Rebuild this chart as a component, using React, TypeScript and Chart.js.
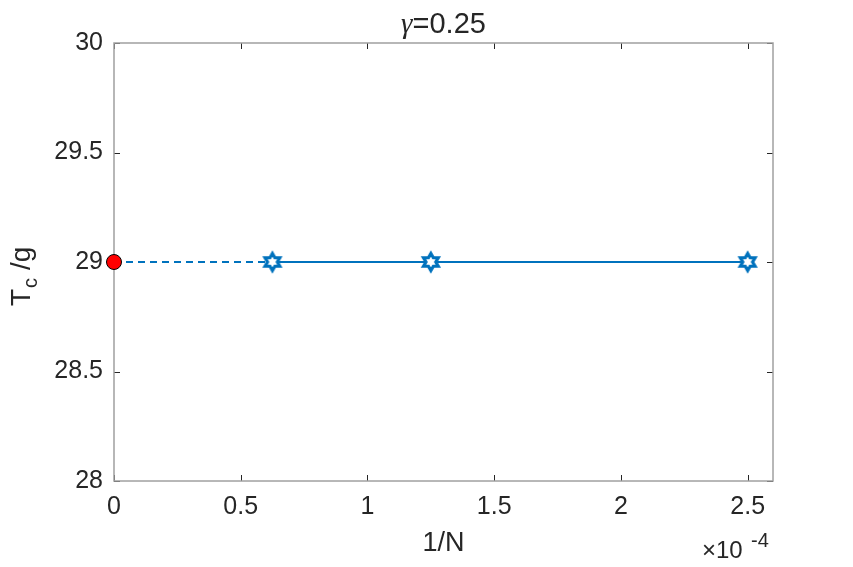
import React, { useEffect, useRef } from "react";
import { Chart, registerables } from "chart.js";

Chart.register(...registerables);

const extrapX = [0, 0.625e-4];
const extrapY = [29, 29];
const dataX = [0.625e-4, 1.25e-4, 2.5e-4];
const dataY = [29, 29, 29];
const limitX = [0];
const limitY = [29];
const xTicks = [0, 0.5e-4, 1e-4, 1.5e-4, 2e-4, 2.5e-4];
const yTicks = [28, 28.5, 29, 29.5, 30];
const titleText = "=0.25";
const xLabel = "1/N";

const BLUE = "#0072BD";
const TXT = "#262626";
const FONT = "'Liberation Sans', Arial, sans-serif";
const SERIF = "'Liberation Serif', 'DejaVu Serif', serif";

function makeHexagram(): HTMLCanvasElement {
  const c = document.createElement("canvas");
  const s = 24;
  c.width = s;
  c.height = s;
  const ctx = c.getContext("2d")!;
  const cx = s / 2, cy = s / 2, R = 8.5, r = R / Math.sqrt(3);
  ctx.beginPath();
  for (let i = 0; i < 12; i++) {
    const ang = -Math.PI / 2 + (i * Math.PI) / 6;
    const rad = i % 2 === 0 ? R : r;
    const px = cx + rad * Math.cos(ang);
    const py = cy + rad * Math.sin(ang);
    if (i === 0) ctx.moveTo(px, py);
    else ctx.lineTo(px, py);
  }
  ctx.closePath();
  ctx.fillStyle = "#ffffff";
  ctx.fill();
  ctx.lineWidth = 3.2;
  ctx.strokeStyle = BLUE;
  ctx.lineJoin = "miter";
  ctx.stroke();
  return c;
}

const frame = {
  id: "frame",
  beforeDatasetsDraw(chart: any) {
    const { ctx, chartArea } = chart;
    const { left, right, top, bottom } = chartArea;
    const xs = chart.scales.x;
    const ys = chart.scales.y;
    ctx.save();
    ctx.strokeStyle = "#262626";
    ctx.lineWidth = 1;
    const tl = 6;
    ctx.beginPath();
    for (const v of xTicks) {
      const px = Math.round(xs.getPixelForValue(v)) + 0.5;
      ctx.moveTo(px, bottom);
      ctx.lineTo(px, bottom - tl);
      ctx.moveTo(px, top);
      ctx.lineTo(px, top + tl);
    }
    for (const v of yTicks) {
      const py = Math.round(ys.getPixelForValue(v)) + 0.5;
      ctx.moveTo(left, py);
      ctx.lineTo(left + tl, py);
      ctx.moveTo(right, py);
      ctx.lineTo(right - tl, py);
    }
    ctx.stroke();
    ctx.strokeStyle = "#a0a0a0";
    ctx.lineWidth = 1.5;
    ctx.strokeRect(left, top, right - left, bottom - top);

    ctx.fillStyle = TXT;
    ctx.textBaseline = "alphabetic";
    // title: gamma + =0.25
    ctx.font = `29px ${FONT}`;
    const wRest = ctx.measureText(titleText).width;
    ctx.font = `italic 29px ${SERIF}`;
    const wG = ctx.measureText("γ").width;
    const tx = (left + right) / 2 - (wG + wRest) / 2;
    ctx.textAlign = "left";
    ctx.fillText("γ", tx, 33);
    ctx.font = `29px ${FONT}`;
    ctx.fillText(titleText, tx + wG, 33);

    ctx.textAlign = "center";
    ctx.font = `27px ${FONT}`;
    ctx.fillText(xLabel, (left + right) / 2, 551);

    // exponent
    ctx.textAlign = "left";
    ctx.font = `24px ${FONT}`;
    ctx.fillText("×10", 702, 558);
    ctx.font = `20px ${FONT}`;
    ctx.fillText("-4", 751, 547);

    // y label T_c/g
    ctx.translate(30, 306);
    ctx.rotate(-Math.PI / 2);
    ctx.font = `28px ${FONT}`;
    ctx.fillText("T", 0, 0);
    ctx.font = `20px ${FONT}`;
    ctx.fillText("c", 18, 7);
    ctx.font = `28px ${FONT}`;
    ctx.fillText("/g", 36, 0);
    ctx.restore();
  },
};

export default function App() {
  const ref = useRef<HTMLCanvasElement>(null);
  useEffect(() => {
    document.body.style.margin = "0";
    const hex = makeHexagram();
    const chart = new Chart(ref.current!, {
      type: "scatter",
      data: {
        datasets: [
          {
            data: extrapX.map((x, i) => ({ x, y: extrapY[i] })),
            showLine: true,
            borderColor: BLUE,
            borderWidth: 2,
            borderDash: [7, 5],
            pointRadius: 0,
            order: 3,
          },
          {
            data: dataX.map((x, i) => ({ x, y: dataY[i] })),
            showLine: true,
            borderColor: BLUE,
            borderWidth: 2,
            pointStyle: hex as any,
            pointRadius: 9,
            order: 2,
          },
          {
            data: limitX.map((x, i) => ({ x, y: limitY[i] })),
            showLine: false,
            backgroundColor: "#ff0000",
            borderColor: "#000000",
            borderWidth: 1,
            pointRadius: 7.5,
            order: 1,
          },
        ],
      },
      options: {
        animation: false,
        responsive: false,
        devicePixelRatio: 1,
        clip: false as any,
        layout: { padding: { left: 0, top: 43, right: 80, bottom: 0 } },
        plugins: { legend: { display: false }, tooltip: { enabled: false } },
        scales: {
          x: {
            type: "linear",
            min: 0,
            max: 2.6e-4,
            grid: { display: false, drawTicks: false },
            border: { display: false },
            afterBuildTicks: (s: any) => {
              s.ticks = xTicks.map((v) => ({ value: v }));
            },
            afterFit: (s: any) => {
              s.height = 86;
            },
            ticks: {
              padding: 11,
              color: TXT,
              font: { size: 25, family: FONT },
              maxRotation: 0,
              autoSkip: false,
              callback: (v: any) => String(Math.round(Number(v) * 1e5) / 10),
            },
          },
          y: {
            type: "linear",
            min: 28,
            max: 30,
            grid: { display: false, drawTicks: false },
            border: { display: false },
            afterBuildTicks: (s: any) => {
              s.ticks = yTicks.map((v) => ({ value: v }));
            },
            afterFit: (s: any) => {
              s.width = 114;
            },
            ticks: {
              padding: 11,
              color: TXT,
              font: { size: 25, family: FONT },
              autoSkip: false,
              callback: (v: any) => String(v),
            },
          },
        },
      },
      plugins: [frame],
    });
    return () => chart.destroy();
  }, []);
  return <canvas ref={ref} width={853} height={567} style={{ display: "block" }} />;
}
